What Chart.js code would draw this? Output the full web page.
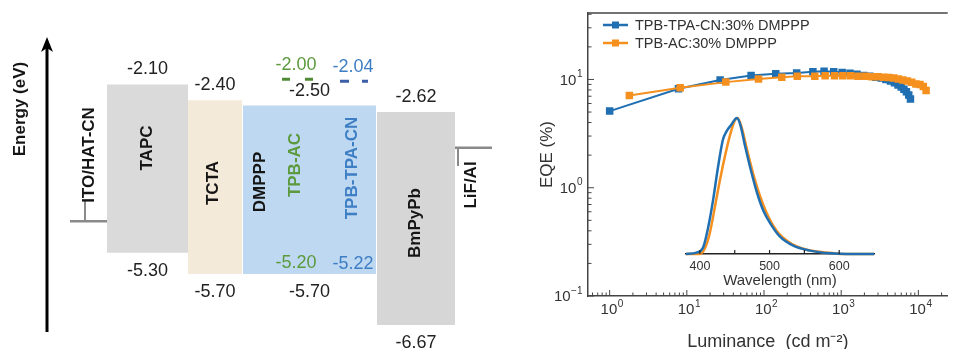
<!DOCTYPE html>
<html>
<head>
<meta charset="utf-8">
<title>Energy levels and EQE</title>
<style>
  * { margin: 0; padding: 0; box-sizing: border-box; }
  body { width: 953px; height: 349px; overflow: hidden; background: #fff; position: relative; }
  canvas { position: absolute; display: block; }
  #levels { left: 0; top: 0; }
  #eqe { left: 500px; top: 0; }
  #el { left: 676px; top: 100px; }
</style>
</head>
<body>
<canvas id="levels" width="500" height="349"></canvas>
<canvas id="eqe" width="453" height="349"></canvas>
<canvas id="el" width="210" height="190"></canvas>
<script src="https://cdn.jsdelivr.net/npm/chart.js"></script>
<script>
// ---- energy levels (eV) ----
const layers = ['TAPC', 'TCTA', 'DMPPP', 'BmPyPb'];
const lumo = [-2.10, -2.40, -2.50, -2.62];
const homo = [-5.30, -5.70, -5.70, -6.67];
const dopants = ['TPB-AC', 'TPB-TPA-CN'];
const dopLumo = [-2.00, -2.04];
const dopHomo = [-5.20, -5.22];
const electrodes = ['ITO/HAT-CN', 'LiF/Al'];
const workFn = [-4.7, -3.3];   // estimated, not labelled

// ---- EQE vs luminance ----
const tpaLum = [1.0, 7.8, 27, 68, 142, 265, 430, 600, 800, 1030, 1300, 1600, 1950, 2350, 2800, 3300, 3800, 4350, 4900, 5450, 6000, 6500, 7000, 7500, 7900];
const tpaEqe = [5.1, 8.2, 9.9, 10.9, 11.3, 11.5, 11.8, 11.9, 11.8, 11.6, 11.4, 11.2, 10.9, 10.7, 10.5, 10.3, 10.0, 9.7, 9.3, 8.9, 8.5, 8.1, 7.7, 7.2, 6.6];
const acLum = [1.8, 8.2, 32, 85, 170, 270, 455, 620, 820, 1050, 1320, 1650, 2050, 2500, 3000, 3550, 4150, 4800, 5500, 6300, 7200, 8200, 9300, 10500, 11600, 12600];
const acEqe = [7.1, 8.4, 9.45, 10.1, 10.5, 10.7, 10.7, 10.8, 10.8, 10.8, 10.8, 10.7, 10.7, 10.6, 10.6, 10.5, 10.4, 10.3, 10.1, 9.9, 9.7, 9.4, 9.1, 9.0, 8.6, 7.9];
const seriesNames = ['TPB-TPA-CN:30% DMPPP', 'TPB-AC:30% DMPPP'];

// ---- EL spectra (normalised) ----
const tpaWl = [380, 395, 405, 412, 419, 426, 433, 438, 445, 453, 458, 465, 472, 482, 491, 501, 515, 534, 558, 587, 620, 650];
const tpaEl = [0, 0.01, 0.054, 0.20, 0.40, 0.64, 0.84, 0.90, 0.95, 1.0, 0.95, 0.79, 0.64, 0.45, 0.32, 0.225, 0.127, 0.061, 0.025, 0.005, 0, 0];
const acWl = [380, 400, 407, 414, 422, 429, 436, 443, 450, 454, 460, 468, 477, 486, 496, 505, 515, 527, 539, 555, 572, 590, 606, 650];
const acEl = [0, 0, 0.04, 0.15, 0.36, 0.55, 0.72, 0.87, 0.98, 1.0, 0.93, 0.76, 0.58, 0.43, 0.30, 0.21, 0.14, 0.09, 0.055, 0.03, 0.017, 0.007, 0, 0];
const wlTicks = [400, 450, 500, 550, 600];

// layout of the schematic (x units of the level chart)
const layerX = [[107, 188], [188, 242], [243, 376], [377, 455]];
const layerFill = ['#dadada', '#f4ead9', '#bdd8f0', '#d6d6d6'];
const nameX = [147, 213, 260, 415];
const nameY = [148, 183, 182, 223];
const dopX = [[282, 313], [340, 368]];
const dopLabelX = [296, 353];
const dopNameX = [295, 352];
const dopNameY = [165, 168];
const dopText = ['#5c9a3d', '#3d7ec4'];
const dopDash = ['#4f8a34', '#3c5fa8'];

const BLUE = '#1f6fb2';
const ORANGE = '#f5901f';
const FONT = '"Liberation Sans", Arial, sans-serif';
Chart.defaults.font.family = FONT;

const xy = (xs, ys) => xs.map((v, i) => ({x: v, y: ys[i]}));

// ---------- level diagram ----------
const levelSets = [];
layers.forEach((n, i) => {
  levelSets.push({
    data: [{x: layerX[i][0], y: lumo[i]}, {x: layerX[i][1], y: lumo[i]}],
    fill: {value: homo[i]}, backgroundColor: layerFill[i], borderColor: 'transparent', borderWidth: 0
  });
});
dopants.forEach((n, i) => {
  [dopLumo[i], dopHomo[i]].forEach(e => {
    levelSets.push({
      data: [{x: dopX[i][0], y: e}, {x: dopX[i][1], y: e}],
      borderColor: dopDash[i], borderWidth: 3, borderDash: i ? [9, 13] : [8, 15], fill: false
    });
  });
});
// electrodes: short horizontal level plus a small tick
levelSets.push({data: [{x: 70, y: workFn[0]}, {x: 107, y: workFn[0]}], borderColor: '#8a8a8a', borderWidth: 2.5, fill: false});
levelSets.push({data: [{x: 85, y: workFn[0]}, {x: 85, y: workFn[0] + 0.4}], borderColor: '#8a8a8a', borderWidth: 2, fill: false});
levelSets.push({data: [{x: 455, y: workFn[1]}, {x: 492, y: workFn[1]}], borderColor: '#8a8a8a', borderWidth: 2.5, fill: false});
levelSets.push({data: [{x: 458, y: workFn[1]}, {x: 458, y: workFn[1] - 0.35}], borderColor: '#8a8a8a', borderWidth: 2, fill: false});

function vtext(ctx, t, x, y, font, color) {
  ctx.save();
  ctx.translate(x, y);
  ctx.rotate(-Math.PI / 2);
  ctx.font = font; ctx.fillStyle = color;
  ctx.textAlign = 'center'; ctx.textBaseline = 'middle';
  ctx.fillText(t, 0, 0);
  ctx.restore();
}

const levelText = {
  id: 'levelText',
  afterDatasetsDraw(chart) {
    const {ctx, scales: {x, y}} = chart;
    ctx.save();
    ctx.textAlign = 'center'; ctx.textBaseline = 'middle';
    ctx.font = '18px ' + FONT; ctx.fillStyle = '#222';
    layers.forEach((n, i) => {
      const cx = x.getPixelForValue((layerX[i][0] + layerX[i][1]) / 2);
      ctx.fillText(lumo[i].toFixed(2), cx, y.getPixelForValue(lumo[i]) - 15);
      ctx.fillText(homo[i].toFixed(2), cx, y.getPixelForValue(homo[i]) + 18);
    });
    dopants.forEach((n, i) => {
      ctx.fillStyle = dopText[i];
      const cx = x.getPixelForValue(dopLabelX[i]);
      ctx.fillText(dopLumo[i].toFixed(2), cx, y.getPixelForValue(dopLumo[i]) - 14);
      ctx.fillText(dopHomo[i].toFixed(2), cx, y.getPixelForValue(dopHomo[i]) + 15);
    });
    const bold = 'bold 17px ' + FONT;
    layers.forEach((n, i) => vtext(ctx, n, x.getPixelForValue(nameX[i]), nameY[i], bold, '#151515'));
    dopants.forEach((n, i) => vtext(ctx, n, x.getPixelForValue(dopNameX[i]), dopNameY[i], bold, dopText[i]));
    vtext(ctx, electrodes[0], x.getPixelForValue(89), 155, bold, '#151515');
    vtext(ctx, electrodes[1], x.getPixelForValue(471), 185, bold, '#151515');
    vtext(ctx, 'Energy (eV)', 20, 109, bold, '#151515');
    // energy arrow
    ctx.strokeStyle = '#000'; ctx.fillStyle = '#000'; ctx.lineWidth = 3;
    ctx.beginPath(); ctx.moveTo(47, 332); ctx.lineTo(47, 48); ctx.stroke();
    ctx.beginPath(); ctx.moveTo(47, 37); ctx.lineTo(41, 52); ctx.lineTo(47, 48); ctx.lineTo(53, 52); ctx.closePath(); ctx.fill();
    ctx.restore();
  }
};

new Chart(document.getElementById('levels'), {
  type: 'line',
  data: {datasets: levelSets},
  options: {
    responsive: false, animation: false, events: [],
    elements: {point: {radius: 0}, line: {tension: 0}},
    layout: {padding: 0},
    scales: {
      x: {type: 'linear', display: false, min: 0, max: 500},
      y: {type: 'linear', display: false, min: -7.128, max: -0.493}
    },
    plugins: {legend: {display: false}, tooltip: {enabled: false}}
  },
  plugins: [levelText]
});

// ---------- EQE chart ----------
const isDecade = v => Math.abs(Math.log10(v) - Math.round(Math.log10(v))) < 1e-9;

function logSteps(min, max) {
  const out = [];
  for (let e = Math.floor(Math.log10(min)); e <= Math.ceil(Math.log10(max)); e++) {
    for (let k = 1; k < 10; k++) {
      const v = k * Math.pow(10, e);
      if (v >= min * 0.9999 && v <= max * 1.0001) out.push({v, major: k === 1});
    }
  }
  return out;
}

// "10" with a raised exponent, anchored at (x, y); align: 'center' or 'right'
function powLabel(ctx, v, x, y, align) {
  const base = '10', ex = String(Math.round(Math.log10(v))).replace('-', '\u2212');
  ctx.font = '15px ' + FONT;
  const wb = ctx.measureText(base).width;
  ctx.font = '10px ' + FONT;
  const we = ctx.measureText(ex).width;
  const left = align === 'right' ? x - wb - we : x - (wb + we) / 2;
  ctx.textAlign = 'left'; ctx.textBaseline = 'middle';
  ctx.font = '15px ' + FONT; ctx.fillText(base, left, y);
  ctx.font = '10px ' + FONT; ctx.fillText(ex, left + wb + 0.5, y - 6);
}

const eqeDecor = {
  id: 'eqeDecor',
  afterDraw(chart) {
    const {ctx, chartArea: a, scales: {x, y}} = chart;
    ctx.save();
    ctx.strokeStyle = '#444'; ctx.lineWidth = 1.5;
    ctx.beginPath(); ctx.moveTo(a.left, a.top); ctx.lineTo(a.right, a.top); ctx.stroke();
    ctx.lineWidth = 1;
    ctx.beginPath();
    const xt = logSteps(x.min, x.max), yt = logSteps(y.min, y.max);
    xt.forEach(t => {
      const p = x.getPixelForValue(t.v);
      ctx.moveTo(p, a.bottom); ctx.lineTo(p, a.bottom - (t.major ? 6 : 3.5));
    });
    yt.forEach(t => {
      const p = y.getPixelForValue(t.v);
      ctx.moveTo(a.left, p); ctx.lineTo(a.left + (t.major ? 6 : 3.5), p);
    });
    ctx.stroke();
    // decade labels
    ctx.fillStyle = '#333';
    xt.filter(t => t.major).forEach(t => powLabel(ctx, t.v, x.getPixelForValue(t.v) + 2, a.bottom + 14, 'center'));
    yt.filter(t => t.major).forEach(t => powLabel(ctx, t.v, a.left - 6, y.getPixelForValue(t.v) + 1, 'right'));
    // legend
    [BLUE, ORANGE].forEach((c, i) => {
      const ly = 25 + i * 18;
      ctx.strokeStyle = c; ctx.fillStyle = c; ctx.lineWidth = 2.5;
      ctx.beginPath(); ctx.moveTo(103, ly); ctx.lineTo(128, ly); ctx.stroke();
      ctx.fillRect(112, ly - 3.5, 7, 7);
      ctx.fillStyle = '#333'; ctx.font = '14.5px ' + FONT;
      ctx.textAlign = 'left'; ctx.textBaseline = 'middle';
      ctx.fillText(seriesNames[i], 135, ly + 1);
    });
    ctx.restore();
  }
};

new Chart(document.getElementById('eqe'), {
  type: 'line',
  data: {
    datasets: [
      {label: seriesNames[0], data: xy(tpaLum, tpaEqe), borderColor: BLUE, backgroundColor: BLUE, order: 2},
      {label: seriesNames[1], data: xy(acLum, acEqe), borderColor: ORANGE, backgroundColor: ORANGE, order: 1}
    ]
  },
  options: {
    responsive: false, animation: false, events: [],
    elements: {
      point: {pointStyle: 'rect', radius: 5.3, borderWidth: 0},
      line: {borderWidth: 2, tension: 0}
    },
    layout: {padding: {top: 13, left: 0, right: 0, bottom: 0}},
    scales: {
      x: {
        type: 'logarithmic', min: 0.524, max: 24000,
        grid: {display: false, drawTicks: false},
        border: {color: '#444', width: 1.5},
        ticks: {autoSkip: false, maxRotation: 0, callback: () => ''},
        title: {display: true, text: 'Luminance  (cd m\u207B\u00B2)', color: '#333',
                font: {size: 18, lineHeight: 0.8}, padding: 0},
        afterFit(s) { s.height = 53; }
      },
      y: {
        type: 'logarithmic', min: 0.1, max: 41.1,
        grid: {display: false, drawTicks: false},
        border: {color: '#444', width: 1.5},
        ticks: {autoSkip: false, callback: () => ''},
        title: {display: true, text: 'EQE (%)', color: '#333', font: {size: 17}, padding: {top: 37, bottom: 0}},
        afterFit(s) { s.width = 88; }
      }
    },
    plugins: {legend: {display: false}, tooltip: {enabled: false}}
  },
  plugins: [eqeDecor]
});

// ---------- inset EL spectra ----------
const elTicks = {
  id: 'elTicks',
  afterDraw(chart) {
    const {ctx, chartArea: a, scales: {x}} = chart;
    ctx.save();
    ctx.strokeStyle = '#222'; ctx.lineWidth = 1.2;
    ctx.beginPath();
    wlTicks.forEach(w => {
      const p = x.getPixelForValue(w);
      ctx.moveTo(p, a.bottom); ctx.lineTo(p, a.bottom - 4);
    });
    ctx.stroke();
    ctx.restore();
  }
};

new Chart(document.getElementById('el'), {
  type: 'line',
  data: {
    datasets: [
      {data: xy(tpaWl, tpaEl), borderColor: BLUE, order: 1},
      {data: xy(acWl, acEl), borderColor: ORANGE, order: 2}
    ]
  },
  options: {
    responsive: false, animation: false, events: [],
    elements: {point: {radius: 0}, line: {borderWidth: 2.5, tension: 0.4, cubicInterpolationMode: 'monotone'}},
    layout: {padding: {top: 18, left: 10, right: 12, bottom: 0}},
    datasets: {line: {clip: 6}},
    scales: {
      x: {
        type: 'linear', min: 380, max: 650,
        grid: {display: false, drawTicks: false},
        border: {color: '#222', width: 1.5},
        afterBuildTicks(s) { s.ticks = wlTicks.map(v => ({value: v})); },
        ticks: {autoSkip: false, maxRotation: 0, padding: 5, color: '#333', font: {size: 12.5},
                callback: v => v % 100 === 0 ? v : ''},
        title: {display: true, text: 'Wavelength (nm)', color: '#333', font: {size: 15, lineHeight: 1}, padding: {top: 0, bottom: 2}},
        afterFit(s) { s.height = 36; }
      },
      y: {type: 'linear', display: false, min: 0, max: 1}
    },
    plugins: {legend: {display: false}, tooltip: {enabled: false}}
  },
  plugins: [elTicks]
});
</script>
</body>
</html>
